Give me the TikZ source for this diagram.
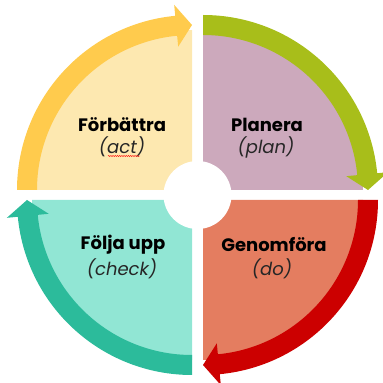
\documentclass[tikz,border=0pt]{standalone}
\usepackage{fontspec}
\setmainfont{Poppins}
\usetikzlibrary{decorations.pathmorphing}
\definecolor{yelF}{RGB}{253,232,176}
\definecolor{yelA}{RGB}{255,203,77}
\definecolor{purF}{RGB}{204,169,188}
\definecolor{grnA}{RGB}{168,190,26}
\definecolor{tealF}{RGB}{145,230,212}
\definecolor{tealA}{RGB}{44,187,155}
\definecolor{redF}{RGB}{228,125,96}
\definecolor{redA}{RGB}{204,0,0}
\tikzset{
  title/.style={font=\fontsize{18}{21}\selectfont\bfseries, text=black, inner sep=0pt},
  sub/.style={font=\fontsize{18}{21}\selectfont\itshape, text=black!85, inner sep=0pt},
}
\begin{document}
\begin{tikzpicture}[x=1pt,y=1pt]
\useasboundingbox (0,0) rectangle (383,383);
\clip (0,0) rectangle (383,383);
% quadrant fills
\fill[yelF] (192,193) -- ++(180:160) arc[start angle=180,end angle=90,radius=160] -- cycle;
\fill[purF] (203,193) -- ++(90:160) arc[start angle=90,end angle=0,radius=160] -- cycle;
\fill[redF] (203,183) -- ++(0:160) arc[start angle=0,end angle=-90,radius=160] -- cycle;
\fill[tealF] (192,183) -- ++(-90:160) arc[start angle=-90,end angle=-180,radius=160] -- cycle;
% arrows
\fill[yelA, shift={(192,193)}] (180:175) arc[start angle=180,end angle=95.5,radius=175]
  -- (95.5:186) -- (90:165) -- (95.5:144) -- (95.5:155)
  arc[start angle=95.5,end angle=180,radius=155] -- cycle;
\fill[grnA, shift={(203,193)}] (90:175) arc[start angle=90,end angle=5.5,radius=175]
  -- (5.5:186) -- (0:165) -- (5.5:144) -- (5.5:155)
  arc[start angle=5.5,end angle=90,radius=155] -- cycle;
\fill[redA, shift={(203,183)}] (0:175) arc[start angle=0,end angle=-84.5,radius=175]
  -- (-84.5:186) -- (-90:165) -- (-84.5:144) -- (-84.5:155)
  arc[start angle=-84.5,end angle=0,radius=155] -- cycle;
\fill[tealA, shift={(192,183)}] (-90:175) arc[start angle=-90,end angle=-174.5,radius=175]
  -- (-174.5:186) -- (-180:165) -- (-174.5:144) -- (-174.5:155)
  arc[start angle=-174.5,end angle=-90,radius=155] -- cycle;
% centre hole
\fill[white] (197.5,188) circle[radius=34];
% labels
\node[title] (act) at (122,258) {Förbättra};
\node[sub] (actsub) at (122,236) {(act)};
\node[title] (plan) at (267,258) {Planera};
\node[sub] (plansub) at (266,236) {(plan)};
\node[title] (check) at (123,138) {Följa upp};
\node[sub] (checksub) at (122,114) {(check)};
\node[title] (do) at (274,138) {Genomföra};
\node[sub] (dosub) at (272,114) {(do)};
\draw[red, line width=0.4pt, decorate, decoration={snake,amplitude=0.6pt,segment length=2.2pt}]
  (108,227) -- (140,227);
\end{tikzpicture}
\end{document}
